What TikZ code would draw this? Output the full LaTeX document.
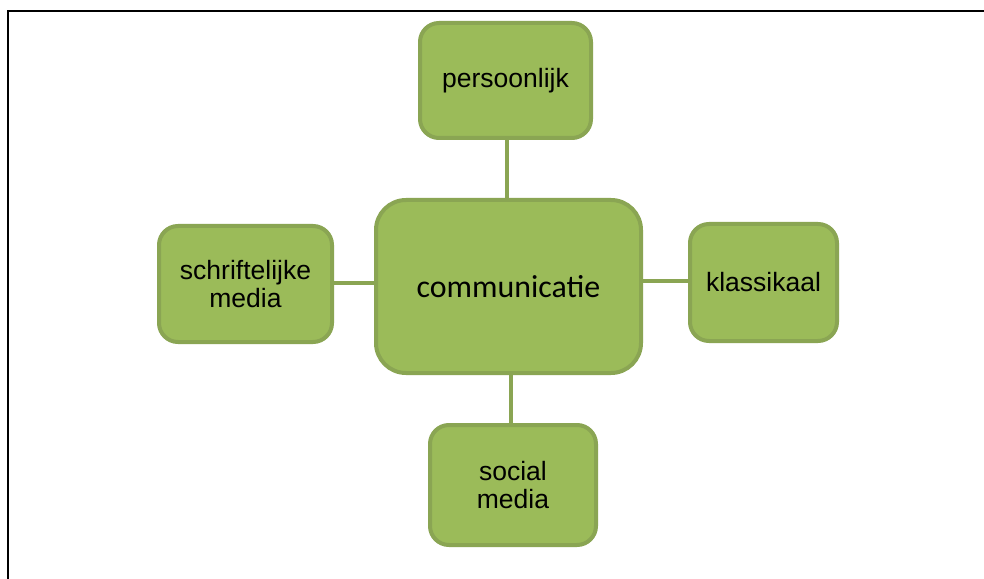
\documentclass[tikz,border=0pt]{standalone}
\usepackage{fontspec}
\setmainfont{Liberation Sans}
\newfontfamily\calibrifont{Carlito}
\definecolor{boxfill}{HTML}{9BBB59}
\definecolor{boxline}{HTML}{8AA553}
\begin{document}
\begin{tikzpicture}[x=1bp,y=-1bp,
  greenbox/.style={draw=boxline, fill=boxfill, line width=4bp, rounded corners=19bp,
    align=center, inner sep=2bp, font=\fontsize{26.6}{27.5}\selectfont},
  link/.style={draw=boxline, line width=4bp}]
\useasboundingbox (0,0) rectangle (984,579);
\fill[white] (0,0) rectangle (984,579);
% frame
\draw[line width=2.5bp] (8,579) -- (8,11) -- (984,11);
% nodes
\node[greenbox, minimum width=265bp, minimum height=173bp, rounded corners=30bp,
  font=\calibrifont\fontsize{32}{34}\selectfont] (comm) at (508.5,286.5) {communicatie};
\node[greenbox, minimum width=171bp, minimum height=115bp] (pers) at (505.5,80.5) {persoonlijk};
\node[greenbox, minimum width=173bp, minimum height=116bp] (schr) at (245.5,284) {schriftelijke\\media};
\node[greenbox, minimum width=147bp, minimum height=117bp] (klas) at (763.5,282.5) {klassikaal};
\node[greenbox, minimum width=166bp, minimum height=120bp] (soc) at (513,485) {social\\media};
% connectors
\draw[link] ([xshift=1.5bp]pers.south) -- ([xshift=1.5bp]pers.south |- comm.north);
\draw[link] ([xshift=-2bp]soc.north) -- ([xshift=-2bp]soc.north |- comm.south);
\draw[link] ([yshift=1bp]schr.east) -- ([yshift=1bp]schr.east -| comm.west);
\draw[link] ([yshift=1.5bp]klas.west) -- ([yshift=1.5bp]klas.west -| comm.east);
\end{tikzpicture}
\end{document}
